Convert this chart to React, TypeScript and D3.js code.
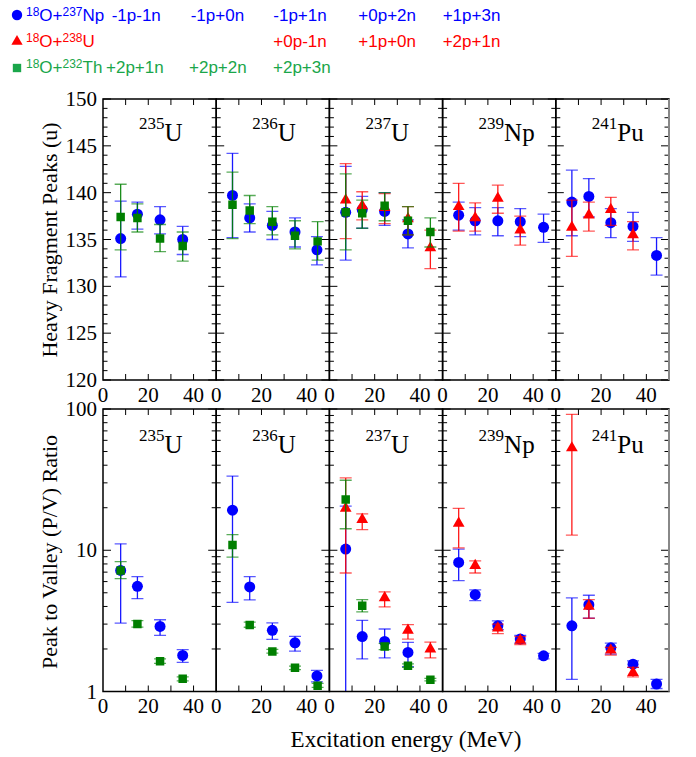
import React, { useEffect, useRef } from 'react';
import * as d3 from 'd3';

// compound nucleus of each panel
const panelMass = ['235', '236', '237', '239', '241'];
const panelElem = ['U', 'U', 'U', 'Np', 'Pu'];

// legend channels
const npChannels = ['-1p-1n', '-1p+0n', '-1p+1n', '+0p+2n', '+1p+3n'];
const uChannels = ['+0p-1n', '+1p+0n', '+2p+1n'];
const thChannels = ['+2p+1n', '+2p+2n', '+2p+3n'];

// heavy fragment peaks: [E (MeV), peak (u), low, high]
const peakNp235 = [[7.8, 135.1, 131.0, 139.1], [15.2, 137.7, 136.1, 139.0], [25.2, 137.1, 135.6, 138.5], [35.2, 135.0, 133.4, 136.4]];
const peakTh235 = [[7.8, 137.4, 133.9, 140.9], [15.2, 137.3, 135.8, 138.8], [25.2, 135.1, 133.7, 136.6], [35.2, 134.3, 132.7, 135.8]];
const peakNp236 = [[7.2, 139.7, 135.2, 144.2], [14.8, 137.3, 135.8, 138.8], [24.8, 136.5, 135.0, 138.0], [34.8, 135.8, 134.2, 137.3], [44.5, 133.9, 132.3, 135.3]];
const peakTh236 = [[7.2, 138.7, 135.1, 142.2], [14.8, 138.1, 136.7, 139.7], [24.8, 136.9, 135.5, 138.5], [34.8, 135.4, 134.0, 137.0], [44.8, 134.8, 132.8, 136.9]];
const peakNp237 = [[7.2, 137.9, 132.8, 142.8], [14.5, 138.2, 136.2, 139.6], [24.4, 138.0, 136.5, 140.0], [34.7, 135.6, 134.1, 137.1]];
const peakU237 = [[7.2, 139.2, 135.1, 143.1], [14.5, 138.6, 137.1, 140.1], [24.4, 138.4, 136.7, 139.9], [34.7, 137.2, 135.5, 138.5], [44.6, 134.1, 131.9, 136.0]];
const peakTh237 = [[7.2, 137.9, 133.9, 142.0], [14.5, 137.8, 136.2, 139.2], [24.4, 138.6, 137.0, 140.0], [34.7, 137.0, 135.5, 138.5], [44.6, 135.8, 134.2, 137.3]];
const peakNp239 = [[7.1, 137.6, 136.0, 139.0], [14.4, 137.0, 135.5, 138.4], [24.4, 137.0, 135.4, 138.4], [34.3, 136.9, 135.3, 138.3], [44.6, 136.3, 134.7, 137.7]];
const peakU239 = [[7.1, 138.5, 135.9, 141.0], [14.4, 137.3, 135.9, 138.9], [24.4, 139.4, 137.8, 140.8], [34.3, 136.0, 134.4, 137.5]];
const peakNp241 = [[7.1, 139.0, 135.4, 142.4], [14.6, 139.6, 137.4, 141.5], [24.3, 136.8, 135.2, 138.3], [34.1, 136.4, 134.8, 137.9], [44.5, 133.3, 131.2, 135.2]];
const peakU241 = [[7.1, 136.3, 133.2, 139.2], [14.6, 137.6, 135.9, 139.0], [24.3, 138.2, 136.5, 139.5], [34.1, 135.5, 133.9, 136.9]];

// peak to valley ratio: [E (MeV), P/V, low, high]
const pvNp235 = [[7.8, 7.2, 3.05, 11.1], [15.2, 5.55, 4.54, 6.5], [25.2, 2.89, 2.5, 3.22], [35.2, 1.8, 1.61, 1.98]];
const pvTh235 = [[7.8, 7.2, 6.3, 8.3], [15.2, 3.0, 2.86, 3.18], [25.2, 1.64, 1.58, 1.7], [35.2, 1.23, 1.19, 1.27]];
const pvNp236 = [[7.2, 19.2, 4.28, 33.5], [14.8, 5.5, 4.45, 6.5], [24.8, 2.71, 2.34, 3.06], [34.8, 2.21, 1.93, 2.46], [44.5, 1.29, 1.17, 1.41]];
const pvTh236 = [[7.2, 10.9, 8.94, 12.9], [14.8, 2.96, 2.85, 3.1], [24.8, 1.92, 1.87, 1.99], [34.8, 1.47, 1.43, 1.51], [44.8, 1.1, 1.07, 1.14]];
const pvNp237 = [[7.2, 10.2, 0.5, 20.5], [14.5, 2.45, 1.7, 3.19], [24.4, 2.26, 1.73, 2.77], [34.7, 1.89, 1.5, 2.23]];
const pvU237 = [[7.2, 19.8, 6.9, 32.5], [14.5, 16.5, 14.0, 18.1], [24.4, 4.6, 3.97, 5.07], [34.7, 2.71, 2.35, 2.97], [44.6, 2.0, 1.73, 2.24]];
const pvTh237 = [[7.2, 22.9, 14.2, 31.3], [14.5, 4.05, 3.66, 4.47], [24.4, 2.08, 1.98, 2.19], [34.7, 1.52, 1.48, 1.57], [44.6, 1.21, 1.19, 1.24]];
const pvNp239 = [[7.1, 8.2, 6.1, 10.2], [14.4, 4.85, 4.4, 5.25], [24.4, 2.92, 2.74, 3.16], [34.3, 2.35, 2.2, 2.5], [44.6, 1.79, 1.7, 1.86]];
const pvU239 = [[7.1, 15.5, 10.4, 19.8], [14.4, 7.8, 6.9, 8.4], [24.4, 2.81, 2.57, 3.0], [34.3, 2.3, 2.15, 2.45]];
const pvNp241 = [[7.1, 2.92, 1.22, 4.6], [14.6, 4.12, 3.3, 4.8], [24.3, 2.04, 1.84, 2.2], [34.1, 1.56, 1.48, 1.65], [44.5, 1.13, 1.05, 1.22]];
const pvU241 = [[7.1, 53, 12.8, 91.7], [14.6, 4.0, 3.3, 4.47], [24.3, 1.96, 1.81, 2.05], [34.1, 1.36, 1.27, 1.48]];

const peakNp = [peakNp235, peakNp236, peakNp237, peakNp239, peakNp241];
const peakU = [[], [], peakU237, peakU239, peakU241];
const peakTh = [peakTh235, peakTh236, peakTh237, [], []];
const pvNp = [pvNp235, pvNp236, pvNp237, pvNp239, pvNp241];
const pvU = [[], [], pvU237, pvU239, pvU241];
const pvTh = [pvTh235, pvTh236, pvTh237, [], []];

const peakTicks = [120, 125, 130, 135, 140, 145, 150];
const pvTicks = [1, 10, 100];
const energyTicks = [0, 20, 40];

const SERIF = '"Liberation Serif", "DejaVu Serif", serif';
const SANS = '"Liberation Sans", Arial, sans-serif';

export default function App() {
  const ref = useRef(null);

  useEffect(() => {
    const svg = d3.select(ref.current);
    svg.selectAll('*').remove();

    const x0 = 103;
    const pw = 113.2;
    const rows = [
      {
        key: 'peak',
        y: d3.scaleLinear().domain([120, 150]).range([380, 99]),
        top: 99,
        bottom: 380,
        majors: peakTicks,
        minors: d3.range(120, 151, 1),
        titleY: 141,
        labelY: 402,
      },
      {
        key: 'pv',
        y: d3.scaleLog().domain([1, 100]).range([691.5, 409]),
        top: 409,
        bottom: 691.5,
        majors: pvTicks,
        minors: [1, 2, 3, 4, 5, 6, 7, 8, 9, 10, 20, 30, 40, 50, 60, 70, 80, 90, 100],
        titleY: 453,
        labelY: 713,
      },
    ];

    const series = [
      { color: '#0000ff', symbol: d3.symbolCircle, size: 95, peak: peakNp, pv: pvNp },
      { color: '#ff0000', symbol: d3.symbolTriangle, size: 60, peak: peakU, pv: pvU },
      { color: '#007f00', symbol: d3.symbolSquare, size: 72, peak: peakTh, pv: pvTh },
    ];

    rows.forEach((row, ri) => {
      const y = row.y;
      for (let i = 0; i < 5; i++) {
        const left = x0 + i * pw;
        const right = left + pw;
        const x = d3.scaleLinear().domain([0, 50]).range([left, right]);
        const g = svg.append('g');
        const clipId = `clip-${ri}-${i}`;
        svg
          .append('clipPath')
          .attr('id', clipId)
          .append('rect')
          .attr('x', left)
          .attr('y', row.top)
          .attr('width', pw)
          .attr('height', row.bottom - row.top);

        // ticks (inward on every side)
        const ticks = g.append('g').attr('stroke', '#000').attr('stroke-width', 1);
        row.minors.forEach((v) => {
          const len = row.majors.includes(v) ? 8 : 4.5;
          ticks.append('line').attr('x1', left).attr('x2', left + len).attr('y1', y(v)).attr('y2', y(v));
          ticks.append('line').attr('x1', right).attr('x2', right - len).attr('y1', y(v)).attr('y2', y(v));
        });
        d3.range(10, 50, 10).forEach((v) => {
          ticks.append('line').attr('x1', x(v)).attr('x2', x(v)).attr('y1', row.bottom).attr('y2', row.bottom - 6);
          ticks.append('line').attr('x1', x(v)).attr('x2', x(v)).attr('y1', row.top).attr('y2', row.top + 6);
        });

        // data
        const plot = g.append('g').attr('clip-path', `url(#${clipId})`);
        series.forEach((s) => {
          const data = s[row.key][i];
          const bars = plot.append('g').attr('stroke', s.color).attr('stroke-width', 1.3);
          bars
            .selectAll('line.v')
            .data(data)
            .join('line')
            .attr('stroke-opacity', 0.9)
            .attr('x1', (d) => x(d[0]))
            .attr('x2', (d) => x(d[0]))
            .attr('y1', (d) => y(d[2]))
            .attr('y2', (d) => y(d[3]));
          [2, 3].forEach((k) => {
            bars
              .append('g')
              .attr('stroke-opacity', 0.65)
              .selectAll('line')
              .data(data)
              .join('line')
              .attr('x1', (d) => x(d[0]) - 6)
              .attr('x2', (d) => x(d[0]) + 6)
              .attr('y1', (d) => y(d[k]))
              .attr('y2', (d) => y(d[k]));
          });
          plot
            .append('g')
            .selectAll('path')
            .data(data)
            .join('path')
            .attr('d', d3.symbol().type(s.symbol).size(s.size))
            .attr('fill', s.color)
            .attr('transform', (d) => `translate(${x(d[0])},${y(d[1])})`);
        });

        // frame
        g.append('rect')
          .attr('x', left)
          .attr('y', row.top)
          .attr('width', pw)
          .attr('height', row.bottom - row.top)
          .attr('fill', 'none')
          .attr('stroke', '#000')
          .attr('stroke-width', 1.5);
        if (i === 4) {
          g.append('line')
            .attr('x1', right)
            .attr('x2', right)
            .attr('y1', row.top)
            .attr('y2', row.bottom)
            .attr('stroke', '#888')
            .attr('stroke-width', 2);
        }

        // panel title
        const title = g
          .append('text')
          .attr('x', left + 36)
          .attr('y', row.titleY)
          .style('font-family', SERIF)
          .attr('fill', '#000');
        title.append('tspan').style('font-size', '17px').attr('dy', -12).text(panelMass[i]);
        title.append('tspan').style('font-size', '25px').attr('dy', 12).text(panelElem[i]);

        // energy tick labels
        g.selectAll('text.xl')
          .data(energyTicks)
          .join('text')
          .attr('x', (d) => x(d))
          .attr('y', row.labelY)
          .attr('text-anchor', 'middle')
          .style('font-family', SERIF)
          .style('font-size', '21px')
          .text((d) => d);
      }

      // y tick labels
      svg
        .append('g')
        .selectAll('text')
        .data(row.majors)
        .join('text')
        .attr('x', 97)
        .attr('y', (d) => y(d) + 7)
        .attr('text-anchor', 'end')
        .style('font-family', SERIF)
        .style('font-size', '21px')
        .text((d) => d);
    });

    // axis titles
    svg
      .append('text')
      .attr('transform', 'translate(57,240) rotate(-90)')
      .attr('text-anchor', 'middle')
      .style('font-family', SERIF)
      .style('font-size', '22px')
      .text('Heavy Fragment Peaks (u)');
    svg
      .append('text')
      .attr('transform', 'translate(57,552) rotate(-90)')
      .attr('text-anchor', 'middle')
      .style('font-family', SERIF)
      .style('font-size', '22px')
      .text('Peak to Valley (P/V) Ratio');
    svg
      .append('text')
      .attr('x', 406)
      .attr('y', 747)
      .attr('text-anchor', 'middle')
      .style('font-family', SERIF)
      .style('font-size', '23px')
      .text('Excitation energy (MeV)');

    // legend
    const legend = svg.append('g').style('font-family', SANS).style('font-size', '17px');
    const reactions = [
      { color: '#0000ff', target: '237', elem: 'Np', symbol: d3.symbolCircle, size: 85, y: 21, sy: 15, chans: npChannels, xs: [111.7, 190.7, 273.3, 358.3, 442.7] },
      { color: '#ff0000', target: '238', elem: 'U', symbol: d3.symbolTriangle, size: 55, y: 47, sy: 41.5, chans: uChannels, xs: [273.3, 358.3, 442.7] },
      { color: '#1aa64a', target: '232', elem: 'Th', symbol: d3.symbolSquare, size: 70, y: 73, sy: 68, chans: thChannels, xs: [106, 189, 273] },
    ];
    reactions.forEach((r) => {
      legend
        .append('path')
        .attr('d', d3.symbol().type(r.symbol).size(r.size))
        .attr('fill', r.color)
        .attr('transform', `translate(17,${r.sy})`);
      const t = legend.append('text').attr('x', 26).attr('y', r.y).attr('fill', r.color);
      t.append('tspan').style('font-size', '12px').attr('dy', -5).text('18');
      t.append('tspan').attr('dy', 5).text('O+');
      t.append('tspan').style('font-size', '12px').attr('dy', -5).text(r.target);
      t.append('tspan').attr('dy', 5).text(r.elem);
      r.chans.forEach((c, k) => {
        legend.append('text').attr('x', r.xs[k]).attr('y', r.y).attr('fill', r.color).text(c);
      });
    });

    return () => {
      svg.selectAll('*').remove();
    };
  });

  return (
    <svg
      ref={ref}
      width={696}
      height={757}
      style={{ position: 'absolute', left: 0, top: 0, background: '#fff' }}
    />
  );
}
